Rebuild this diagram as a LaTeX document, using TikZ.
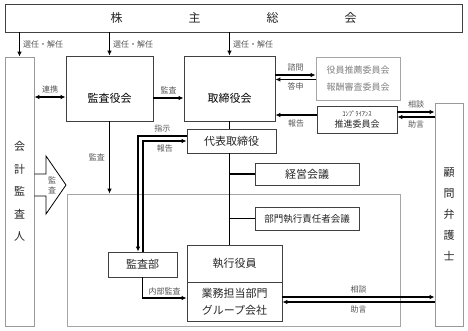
\documentclass[tikz,border=0pt]{standalone}
\usepackage{fontspec}
\setmainfont{Noto Sans CJK JP}
\usetikzlibrary{arrows.meta}
\definecolor{boxgray}{RGB}{64,64,64}
\definecolor{lblgray}{RGB}{85,85,85}
\definecolor{palegray}{RGB}{165,165,165}

\begin{document}
\begin{tikzpicture}[x=1pt,y=-1pt,font=\fontsize{11}{13}\selectfont,>={Latex[length=5pt,width=4.5pt]},
    box/.style={draw=boxgray,line width=.8pt,inner sep=0pt,text=black!85},
    lbl/.style={font=\fontsize{8}{9}\selectfont,text=lblgray,inner sep=1pt},
    arr/.style={->,line width=1.3pt},
    link/.style={line width=1.3pt}]
        \useasboundingbox (0,0) rectangle (468,330);
        \node[draw=palegray,line width=.6pt,minimum width=333pt,minimum height=132pt,inner sep=0pt] (execarea) at (233.5,260) {};
        \node[box,minimum width=457pt,minimum height=28pt,font=\fontsize{12}{14}\selectfont] (shareholders) at (233.5,18) {株\hspace{66pt}主\hspace{66pt}総\hspace{66pt}会};
        \node[box,draw=gray!80,minimum width=29pt,minimum height=269pt,align=center,font=\fontsize{11}{22.5}\selectfont] (auditor) at (19.5,191.5) {会\\計\\監\\査\\人};
        \node[box,minimum width=87pt,minimum height=65pt,label={[yshift=-10pt]center:監査役会}] (kansayaku) at (109.5,88.5) {};
        \node[box,minimum width=91pt,minimum height=65pt,label={[yshift=-10pt]center:取締役会}] (board) at (229.5,88.5) {};
        \node[box,draw=palegray,text=gray,minimum width=84pt,minimum height=43pt,align=center,font=\fontsize{9}{17}\selectfont] (committees) at (358,78.5) {役員推薦委員会\\報酬審査委員会};
        \node[box,minimum width=80pt,minimum height=27pt,align=center,font=\fontsize{9}{11}\selectfont] (compliance) at (357,120) {{\fontsize{6.5}{8}\selectfont ｺﾝﾌﾟﾗｲｱﾝｽ}\\推進委員会};
        \node[box,draw=gray!80,minimum width=28pt,minimum height=223pt,align=center,font=\fontsize{11}{21}\selectfont] (lawyer) at (449,214.5) {顧\\問\\弁\\護\\士};
        \node[box,minimum width=89pt,minimum height=24pt] (president) at (231.5,141) {代表取締役};
        \node[box,minimum width=104pt,minimum height=22pt] (mgmt) at (307,174) {経営会議};
        \node[box,minimum width=104pt,minimum height=23pt,font=\fontsize{9.5}{11}\selectfont] (divheads) at (307,218.5) {部門執行責任者会議};
        \node[box,minimum width=69pt,minimum height=25pt] (auditdept) at (142.5,264.5) {監査部};
        \node[box,minimum width=95pt,minimum height=37pt] (officers) at (234.5,263.5) {執行役員};
        \node[box,minimum width=95pt,minimum height=39pt,align=center,font=\fontsize{11}{17}\selectfont] (divisions) at (234.5,301.5) {業務担当部門\\グループ会社};
        \foreach \n in {auditor,kansayaku,board} \draw[arr] (\n.north |- shareholders.south) -- (\n.north) node[lbl,midway,right=2pt]{選任・解任};
        \draw[<->,line width=1.3pt] (auditor.east |- 0,97) -- (kansayaku.west |- 0,97) node[lbl,midway,above=2pt]{連携};
        \draw[arr] (kansayaku.east |- 0,98) -- (board.west |- 0,98) node[lbl,midway,above=2pt]{監査};
        \draw[arr] (board.east |- 0,75) -- (committees.west |- 0,75) node[lbl,midway,above=2pt]{諮問};
        \draw[arr] (committees.west |- 0,79.5) -- (board.east |- 0,79.5) node[lbl,midway,below=2pt]{答申};
        \draw[arr] (compliance.west |- 0,115) -- (board.east |- 0,115) node[lbl,midway,below=3pt]{報告};
        \draw[arr] (compliance.east |- 0,112) -- (lawyer.west |- 0,112) node[lbl,midway,above=2pt]{相談};
        \draw[arr] (lawyer.west |- 0,117) -- (compliance.east |- 0,117) node[lbl,midway,below=2pt]{助言};
        \draw[link] (board.south) -- (board.south |- president.north);
        \draw[link] (board.south |- president.south) -- (board.south |- officers.north);
        \foreach \n in {mgmt,divheads} \draw[link] (\n.west -| board.south) -- (\n.west);
        \draw[arr] (kansayaku.south) -- (kansayaku.south |- execarea.north) node[lbl,midway,left=3pt]{監査};
        \draw[arr] (president.west |- 0,136) -| ([xshift=-4.5pt]auditdept.north) node[lbl,pos=.25,above=2pt]{指示};
        \draw[arr] ([xshift=.5pt]auditdept.north) |- (president.west |- 0,141) node[lbl,pos=.75,below=2pt]{報告};
        \draw[arr] (auditdept.south) |- (divisions.west |- 0,298) node[lbl,pos=.75,above=1pt]{内部監査};
        \draw[arr] (divisions.east |- 0,297) -- (lawyer.west |- 0,297) node[lbl,midway,above=2pt]{相談};
        \draw[arr] (lawyer.west |- 0,302) -- (divisions.east |- 0,302) node[lbl,midway,below=2pt]{助言};
        \draw[line width=.8pt] (auditor.east |- 0,174) -- (46,174) -- (46,156) -- (66,185) -- (46,214) -- (46,196) -- (auditor.east |- 0,196);
        \node[lbl,align=center,font=\fontsize{8}{10}\selectfont] (auditmark) at (52,185) {監\\査};
      \end{tikzpicture}
\end{document}
